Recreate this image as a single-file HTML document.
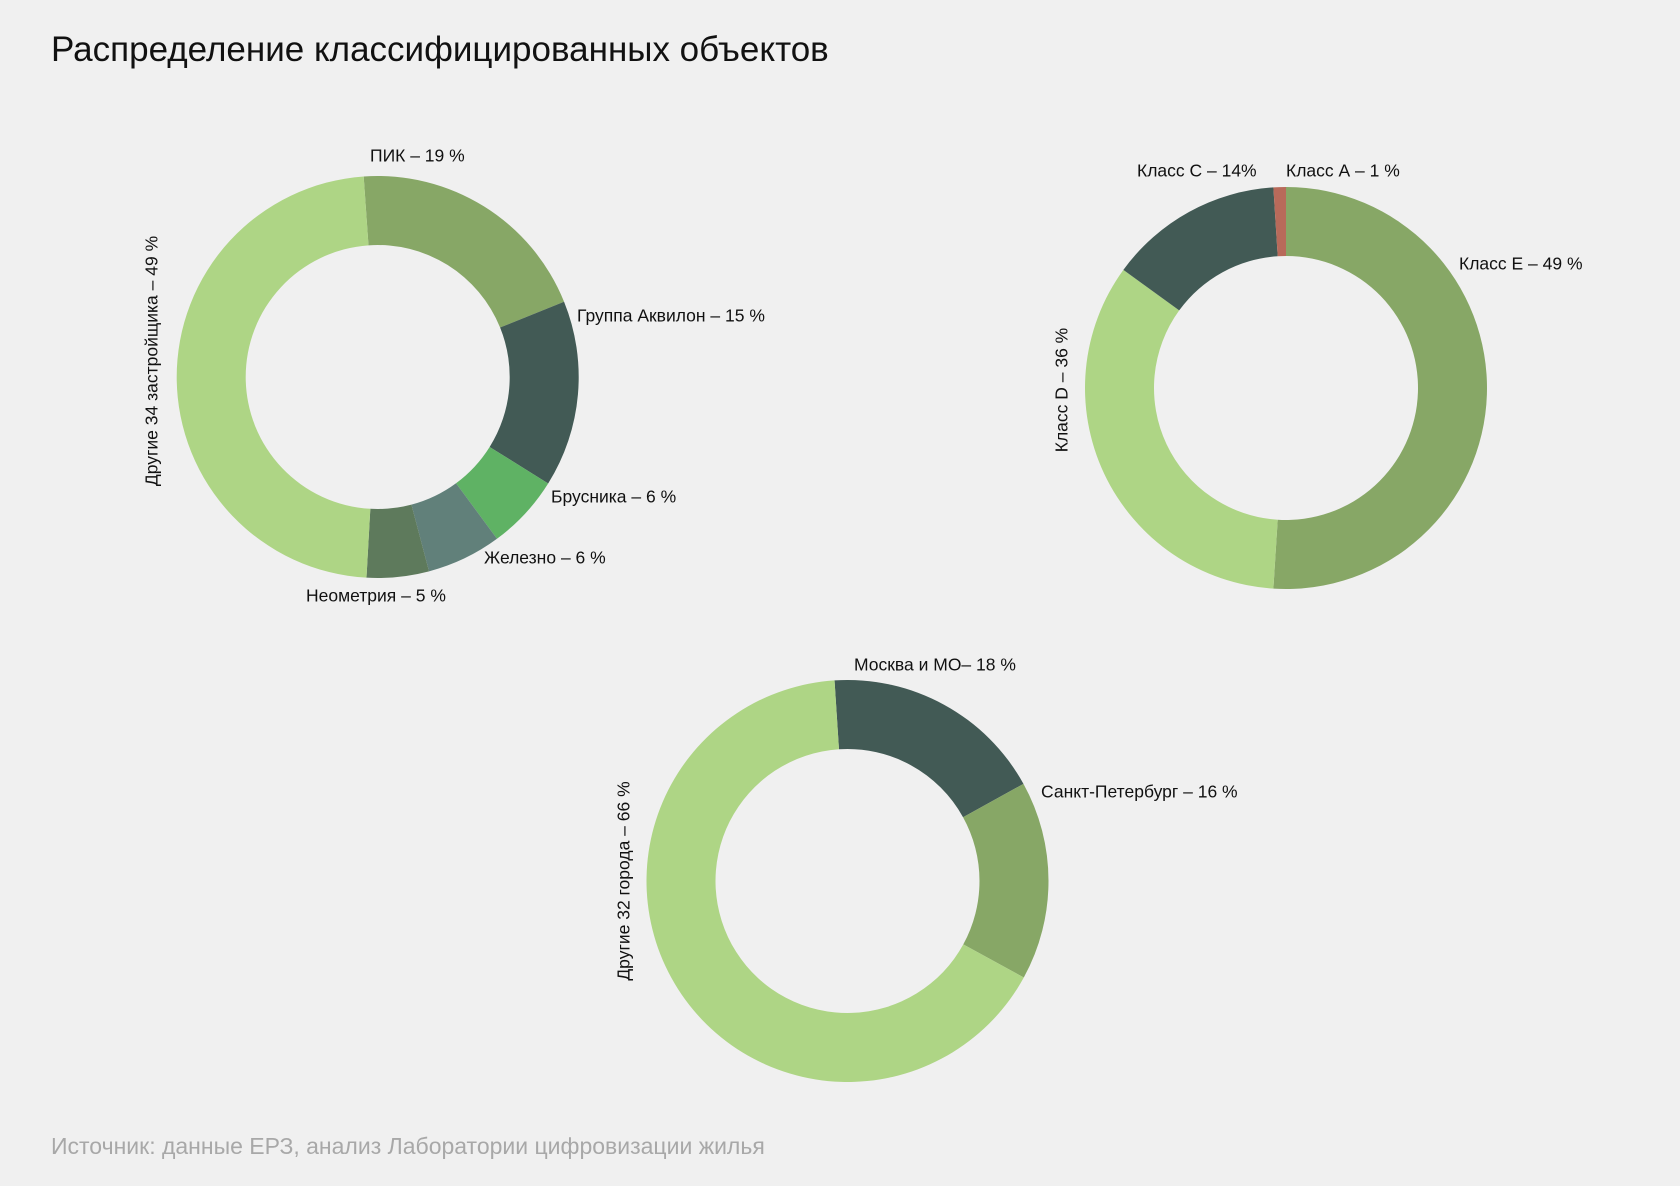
<!DOCTYPE html>
<html><head><meta charset="utf-8"><style>
html,body{margin:0;padding:0;background:#f0f0f0;}
svg{display:block;font-family:"Liberation Sans",Arial,sans-serif;}
</style></head><body>
<svg id="c" width="1680" height="1186" viewBox="0 0 1680 1186">
<rect width="1680" height="1186" fill="#f0f0f0"/>
<text x="51" y="61" font-size="35" fill="#111">Распределение классифицированных объектов</text>
<text x="51" y="1154" font-size="23" fill="#a8a8a8">Источник: данные ЕРЗ, анализ Лаборатории цифровизации жилья</text>
</svg>
<script>
const devLabels=["ПИК – 19 %","Группа Аквилон – 15 %","Брусника – 6 %","Железно – 6 %","Неометрия – 5 %","Другие 34 застройщика – 49 %"];
const devValues=[20,15,6,6,5,48];
const classLabels=["Класс Е – 49 %","Класс D – 36 %","Класс С – 14%","Класс А – 1 %"];
const classValues=[51,34,14,1];
const cityLabels=["Москва и МО– 18 %","Санкт-Петербург – 16 %","Другие 32 города – 66 %"];
const cityValues=[18,16,66];

const svg=document.getElementById('c');
const NS='http://www.w3.org/2000/svg';
const R=201, RI=132;
function arc(cx,cy,a0,a1){
  const p=(r,a)=>[cx+r*Math.sin(a),cy-r*Math.cos(a)];
  const large=(a1-a0)>Math.PI?1:0;
  const [x0,y0]=p(R,a0),[x1,y1]=p(R,a1),[x2,y2]=p(RI,a1),[x3,y3]=p(RI,a0);
  return `M${x0},${y0}A${R},${R} 0 ${large} 1 ${x1},${y1}L${x2},${y2}A${RI},${RI} 0 ${large} 0 ${x3},${y3}Z`;
}
function donut(name,cx,cy,startDeg,values,colors,labels,labelPos){
  const g=document.createElementNS(NS,'g');
  
  
  svg.appendChild(g);
  const total=values.reduce((a,b)=>a+b,0);
  let a=startDeg*Math.PI/180;
  values.forEach((v,i)=>{
    const a1=a+v/total*2*Math.PI;
    const path=document.createElementNS(NS,'path');
    path.setAttribute('d',arc(cx,cy,a,a1));
    path.setAttribute('fill',colors[i]);
    
    
    g.appendChild(path);
    a=a1;
  });
  labels.forEach((t,i)=>{
    const lp=labelPos[i];
    const tx=document.createElementNS(NS,'text');
    tx.setAttribute('x',lp[0]);tx.setAttribute('y',lp[1]);
    tx.setAttribute('font-size','17.5');tx.setAttribute('fill','#111');
    tx.setAttribute('dominant-baseline','middle');
    if(lp[2]){tx.setAttribute('text-anchor','middle');tx.setAttribute('transform',`rotate(-90 ${lp[0]} ${lp[1]})`);}
    tx.textContent=t;
    
    
    g.appendChild(tx);
  });
}
donut('developers-donut',377.7,377,-4,devValues,
 ['#87a766','#425a55','#5fb264','#61807a','#5e7a5c','#aed585'],devLabels,
 [[370,157],[577,317],[551,498],[484,559],[306,597],[153,361,1]]);
donut('classes-donut',1286,388,0,classValues,
 ['#87a766','#aed585','#425a55','#b86a5a'],classLabels,
 [[1459,265],[1063,390,1],[1137,172],[1286,172]]);
donut('cities-donut',847.5,881,-3.7,cityValues,
 ['#425a55','#87a766','#aed585'],cityLabels,
 [[854,666],[1041,793],[625,881,1]]);
</script>
</body></html>
